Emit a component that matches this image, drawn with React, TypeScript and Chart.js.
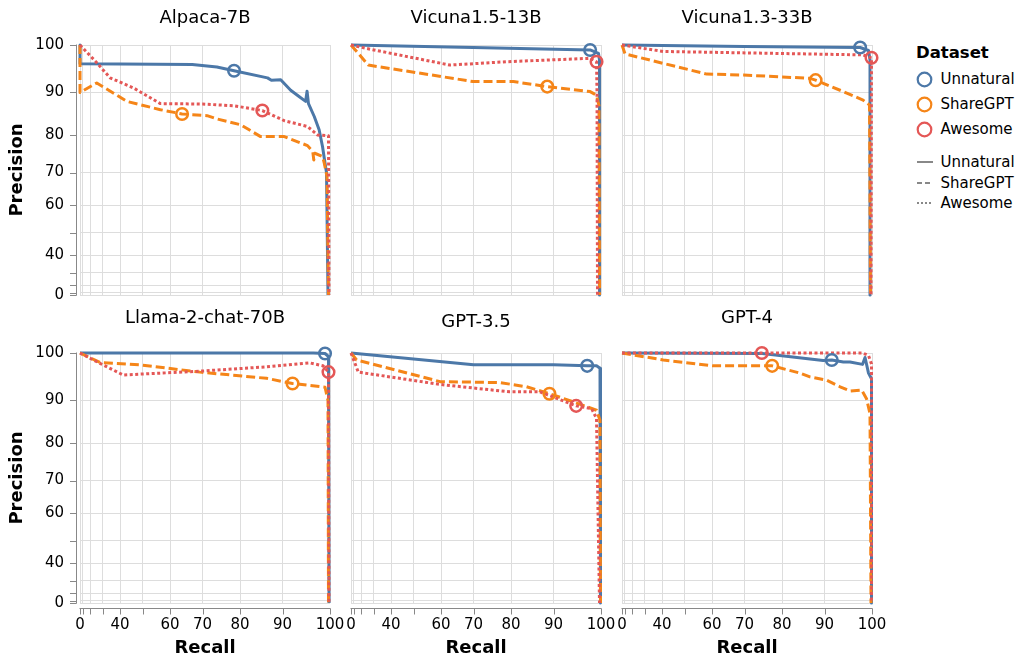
import React, { useEffect, useRef } from 'react';
import { Chart, registerables, LinearScale } from 'chart.js';

// ---------- data ----------
const SERIES = ['Unnatural', 'ShareGPT', 'Awesome'];
const TITLES = ['Alpaca-7B', 'Vicuna1.5-13B', 'Vicuna1.3-33B', 'Llama-2-chat-70B', 'GPT-3.5', 'GPT-4'];
const X_TICK_LABELS = [0, 40, 60, 70, 80, 90, 100];
const Y_TICK_LABELS = [0, 40, 60, 70, 80, 90, 100];

// [recall, precision]
const ALPACA_UNNATURAL = [[0, 100], [1, 96.2], [40, 96.1], [67, 96], [74, 95.5], [78.5, 94.7], [86.6, 93.2], [87.5, 92.7], [89.6, 92.8], [91.8, 90.5], [93.6, 89.1], [95, 88], [95.3, 90.3], [95.6, 87.5], [96.8, 84.5], [97.8, 81.3], [98.5, 77], [99, 72.6], [99.3, 70], [99.6, 0]];
const ALPACA_SHAREGPT = [[0, 100], [0, 90], [25.9, 92.1], [43.3, 88], [56.7, 86.1], [63.9, 85.1], [71.3, 84.7], [74.1, 83.9], [80.2, 82.5], [85, 79.6], [90.4, 79.6], [95.4, 77.3], [96.5, 75.7], [96.7, 73.5], [96.9, 75.3], [98.5, 74.4], [98.85, 72.6], [99.4, 68.8], [99.7, 0]];
const ALPACA_AWESOME = [[0, 100], [25.9, 96.4], [34.7, 93.2], [46.3, 91], [56.7, 87.5], [70, 87.4], [78.5, 87], [85.4, 85.9], [90.4, 83.5], [95.4, 82.1], [97.5, 80], [99.7, 79.8], [99.8, 0]];
const ALPACA_MARKERS = [[78.5, 94.7], [63.9, 85.1], [85.4, 85.9]];

const VIC15_UNNATURAL = [[0, 100], [69.9, 99.5], [97.8, 99], [99.5, 98.3], [99.7, 97], [99.7, 0]];
const VIC15_SHAREGPT = [[0, 100], [26.3, 95.9], [69.9, 92.4], [80.6, 92.4], [88.6, 91.3], [97.8, 90.2], [99.1, 89.4], [99.6, 87], [99.7, 0]];
const VIC15_AWESOME = [[0, 100], [25, 99.3], [62.9, 95.9], [78.9, 96.6], [97.8, 97.3], [99.1, 96.6], [99.2, 90], [99.3, 0]];
const VIC15_MARKERS = [[97.8, 99], [88.6, 91.3], [99.1, 96.6]];

const VIC13_UNNATURAL = [[0, 100], [70, 99.7], [97.6, 99.5], [99.3, 98.9], [99.6, 97], [99.6, 0]];
const VIC13_SHAREGPT = [[0, 100], [11, 98.2], [58.2, 94], [69.7, 93.8], [86.7, 93.1], [88, 92.7], [94.1, 90.2], [98.2, 88.3], [99.5, 87.2], [99.7, 0]];
const VIC13_AWESOME = [[0, 100], [40.6, 98.7], [78.7, 98.3], [98.2, 98], [99.9, 97.4], [99.8, 0]];
const VIC13_MARKERS = [[97.6, 99.5], [88, 92.7], [99.9, 97.4]];

const LLAMA_UNNATURAL = [[0, 100], [96.6, 100], [99, 99.9], [99.7, 99.3], [99.8, 0]];
const LLAMA_SHAREGPT = [[0, 100], [28.3, 98.1], [49, 97.6], [69.3, 96.1], [86.4, 94.8], [92.2, 93.7], [99, 92.9], [99.6, 90], [99.7, 0]];
const LLAMA_AWESOME = [[0, 100], [28.3, 97.9], [41.6, 95.5], [69.3, 96.3], [86.4, 97.2], [95.9, 98], [98.6, 97.4], [99.7, 96.1], [99.8, 0]];
const LLAMA_MARKERS = [[99, 99.9], [92.2, 93.7], [99.7, 96.1]];

const GPT35_UNNATURAL = [[0, 100], [70, 97.6], [90, 97.6], [97.2, 97.4], [99.1, 97.4], [99.8, 96.9], [99.9, 86], [99.9, 0]];
const GPT35_SHAREGPT = [[0, 100], [15, 98.6], [59.7, 94.1], [77.2, 93.9], [83.8, 93], [89.1, 91.5], [94.3, 89.7], [99.1, 87.8], [99.8, 85.5], [99.9, 0]];
const GPT35_AWESOME = [[0, 100], [17.1, 96.1], [59.7, 93.5], [79.7, 91.9], [86.9, 91.9], [94.9, 88.8], [98.1, 88.2], [99.1, 85.9], [99.7, 0]];
const GPT35_MARKERS = [[97.2, 97.4], [89.1, 91.5], [94.9, 88.8]];

const GPT4_UNNATURAL = [[0, 100], [74.9, 99.9], [89.7, 98.5], [91.6, 98.6], [94.1, 98.2], [95.5, 98.2], [98.1, 97.7], [98.6, 99.1], [99.3, 95.9], [99.9, 94.7], [99.9, 0]];
const GPT4_SHAREGPT = [[0, 100], [40.6, 98.6], [60.4, 97.4], [73.4, 97.4], [77.5, 97.4], [84.4, 95.9], [86.7, 95.1], [90.5, 94.4], [93.4, 93], [95.5, 92.1], [97.9, 92.3], [98.9, 90.4], [99.6, 87], [99.8, 0]];
const GPT4_AWESOME = [[0, 100], [74.8, 100], [98.1, 100], [99.3, 99.5], [99.9, 97.8], [99.9, 0]];
const GPT4_MARKERS = [[91.6, 98.6], [77.5, 97.4], [74.8, 100]];

const PANEL_LINES = [
  [ALPACA_UNNATURAL, ALPACA_SHAREGPT, ALPACA_AWESOME],
  [VIC15_UNNATURAL, VIC15_SHAREGPT, VIC15_AWESOME],
  [VIC13_UNNATURAL, VIC13_SHAREGPT, VIC13_AWESOME],
  [LLAMA_UNNATURAL, LLAMA_SHAREGPT, LLAMA_AWESOME],
  [GPT35_UNNATURAL, GPT35_SHAREGPT, GPT35_AWESOME],
  [GPT4_UNNATURAL, GPT4_SHAREGPT, GPT4_AWESOME],
];
const PANEL_MARKERS = [ALPACA_MARKERS, VIC15_MARKERS, VIC13_MARKERS, LLAMA_MARKERS, GPT35_MARKERS, GPT4_MARKERS];

// ---------- style / layout ----------
const COLORS = ['#4c78a8', '#f58518', '#e45756'];
const DASHES: number[][] = [[], [9, 4], [3, 2.5]];
const FONT = "'DejaVu Sans', 'Noto Sans', sans-serif";
const COL_LEFT = [80, 351, 622];
const ROW_TOP = [45, 353];
const PLOT = 250;
const PAD_LEFT = 80;
const PAD_TOP = 45;
const PAD_RIGHT = 22;
const PAD_BOTTOM = 55;
const TITLE_OFFSET = [27, 27, 27, 35, 31, 35];

// ---------- pow(2) scale ----------
class PowScale extends LinearScale {
  static id = 'pow';
  static defaults = LinearScale.defaults;
  getPixelForValue(value: any) {
    if (value === null || value === undefined || Number.isNaN(value)) return NaN;
    const lo = this.min * this.min;
    const hi = this.max * this.max;
    return this.getPixelForDecimal((value * value - lo) / (hi - lo));
  }
  getValueForPixel(pixel: number) {
    const lo = this.min * this.min;
    const hi = this.max * this.max;
    return Math.sqrt(Math.max(0, lo + this.getDecimalForPixel(pixel) * (hi - lo)));
  }
}

Chart.register(...registerables, PowScale as any);
Chart.defaults.font.family = FONT;

const panelTitlePlugin = {
  id: 'panelTitle',
  afterDraw(chart: any, _args: any, opts: any) {
    const { ctx, chartArea } = chart;
    ctx.save();
    ctx.font = `18px ${FONT}`;
    ctx.fillStyle = '#000';
    ctx.textAlign = 'center';
    ctx.textBaseline = 'middle';
    ctx.fillText(opts.text, (chartArea.left + chartArea.right) / 2, chartArea.top - opts.offset);
    ctx.restore();
  },
};

const axisDomainPlugin = {
  id: 'axisDomain',
  afterDraw(chart: any, _args: any, opts: any) {
    const { ctx, chartArea, scales } = chart;
    ctx.save();
    ctx.strokeStyle = '#888';
    ctx.lineWidth = 1;
    ctx.beginPath();
    if (opts.y) {
      const s = scales.y;
      const x0 = Math.round(chartArea.left - 4.5) + 0.5;
      ctx.moveTo(x0, s.getPixelForValue(100) - 0.5);
      ctx.lineTo(x0, s.getPixelForValue(0) + 0.5);
      for (const t of s.ticks) {
        const py = Math.round(s.getPixelForValue(t.value)) + 0.5;
        ctx.moveTo(x0, py);
        ctx.lineTo(x0 - 6.5, py);
      }
    }
    if (opts.x) {
      const s = scales.x;
      const y0 = Math.round(chartArea.bottom + 4.5) + 0.5;
      ctx.moveTo(s.getPixelForValue(0) - 0.5, y0);
      ctx.lineTo(s.getPixelForValue(100) + 0.5, y0);
      for (const t of s.ticks) {
        const px = Math.round(s.getPixelForValue(t.value)) + 0.5;
        ctx.moveTo(px, y0);
        ctx.lineTo(px, y0 + 6);
      }
    }
    ctx.stroke();
    ctx.restore();
  },
};

const zeroPadding = (s: any) => {
  s.paddingLeft = 0;
  s.paddingRight = 0;
  s.paddingTop = 0;
  s.paddingBottom = 0;
};

function Panel({ idx }: { idx: number }) {
  const ref = useRef<HTMLCanvasElement>(null);
  const col = idx % 3;
  const row = Math.floor(idx / 3);
  useEffect(() => {
    if (!ref.current) return;
    const datasets: any[] = [];
    SERIES.forEach((name, i) => {
      datasets.push({
        label: name,
        data: PANEL_LINES[idx][i].map(([x, y]) => ({ x, y })),
        showLine: true,
        borderColor: COLORS[i],
        backgroundColor: COLORS[i],
        borderWidth: 3,
        borderDash: DASHES[i],
        borderCapStyle: 'butt',
        borderJoinStyle: 'round',
        pointRadius: 0,
        pointHoverRadius: 0,
        fill: false,
        tension: 0,
        clip: false,
        order: 10 - i,
      });
    });
    SERIES.forEach((name, i) => {
      const m = PANEL_MARKERS[idx][i];
      datasets.push({
        label: name + ' point',
        data: [{ x: m[0], y: m[1] }],
        showLine: false,
        pointRadius: 5.8,
        pointBorderWidth: 2.5,
        pointBorderColor: COLORS[i],
        pointBackgroundColor: 'rgba(0,0,0,0)',
        borderColor: COLORS[i],
        backgroundColor: 'rgba(0,0,0,0)',
        clip: false,
        order: 3 - i,
      });
    });
    const chart = new Chart(ref.current, {
      type: 'scatter',
      data: { datasets },
      plugins: [panelTitlePlugin, axisDomainPlugin],
      options: {
        animation: false,
        responsive: true,
        maintainAspectRatio: false,
        events: [],
        layout: { padding: { left: 0, top: PAD_TOP, right: PAD_RIGHT, bottom: 0 } },
        plugins: {
          legend: { display: false },
          tooltip: { enabled: false },
          panelTitle: { text: TITLES[idx], offset: TITLE_OFFSET[idx] },
          axisDomain: { x: row === 1, y: col === 0 },
        } as any,
        scales: {
          x: {
            type: 'pow' as any,
            min: 0,
            max: 100,
            afterFit: (s: any) => { s.height = PAD_BOTTOM; zeroPadding(s); },
            ticks: {
              display: row === 1,
              stepSize: 10,
              autoSkip: false,
              maxRotation: 0,
              minRotation: 0,
              padding: 13,
              color: '#000',
              font: { size: 15 },
              callback: (v: any) => (X_TICK_LABELS.includes(Number(v)) ? String(v) : ''),
            },
            grid: { color: '#ddd', lineWidth: 1, drawTicks: false },
            border: { display: false },
            title: {
              display: row === 1,
              text: 'Recall',
              color: '#000',
              font: { size: 18, weight: 'bold', lineHeight: 1.1 },
              padding: 0,
            },
          },
          y: {
            type: 'pow' as any,
            min: 0,
            max: 100,
            afterFit: (s: any) => { s.width = PAD_LEFT; zeroPadding(s); },
            ticks: {
              display: col === 0,
              stepSize: 10,
              autoSkip: false,
              padding: 16,
              color: '#000',
              font: { size: 15 },
              callback: (v: any) => (Y_TICK_LABELS.includes(Number(v)) ? String(v) : ''),
            },
            grid: { color: '#ddd', lineWidth: 1, drawTicks: false },
            border: { display: false },
            title: {
              display: col === 0,
              text: 'Precision',
              color: '#000',
              font: { size: 18, weight: 'bold', lineHeight: 1.2 },
              padding: { top: 6.5, bottom: 0 },
            },
          },
        } as any,
      },
    });
    return () => chart.destroy();
  }, [idx]);
  return (
    <div
      style={{
        position: 'absolute',
        left: COL_LEFT[col] - PAD_LEFT,
        top: ROW_TOP[row] - PAD_TOP,
        width: PAD_LEFT + PLOT + PAD_RIGHT,
        height: PAD_TOP + PLOT + PAD_BOTTOM,
      }}
    >
      <canvas ref={ref} />
    </div>
  );
}

function LegendLine({ dash }: { dash: string }) {
  return (
    <svg width={16} height={6} style={{ display: 'block' }}>
      <line x1={0} y1={3} x2={16} y2={3} stroke="#888" strokeWidth={2} strokeDasharray={dash || undefined} />
    </svg>
  );
}

function Legend() {
  const circleY = [79, 104, 129];
  const lineY = [162, 182.5, 202.5];
  const lineDash = ['', '5,3', '2,2'];
  const label: React.CSSProperties = { fontFamily: FONT, fontSize: 15, color: '#000', whiteSpace: 'nowrap' };
  return (
    <>
      <div style={{ position: 'absolute', left: 916, top: 53 - 12, height: 24, lineHeight: '24px', fontFamily: FONT, fontWeight: 'bold', fontSize: 16.5, color: '#000' }}>
        Dataset
      </div>
      {SERIES.map((name, i) => (
        <div key={'c' + name} style={{ position: 'absolute', left: 916, top: circleY[i] - 10, height: 20, display: 'flex', alignItems: 'center' }}>
          <svg width={17} height={17} style={{ display: 'block' }}>
            <circle cx={8.5} cy={8.5} r={6.8} fill="none" stroke={COLORS[i]} strokeWidth={2.2} />
          </svg>
          <span style={{ ...label, marginLeft: 7.5 }}>{name}</span>
        </div>
      ))}
      {SERIES.map((name, i) => (
        <div key={'l' + name} style={{ position: 'absolute', left: 917, top: lineY[i] - 10, height: 20, display: 'flex', alignItems: 'center' }}>
          <LegendLine dash={lineDash[i]} />
          <span style={{ ...label, marginLeft: 7.5 }}>{name}</span>
        </div>
      ))}
    </>
  );
}

export default function App() {
  return (
    <div style={{ position: 'fixed', left: 0, top: 0, width: 1019, height: 660, overflow: 'hidden', background: '#fff' }}>
      {TITLES.map((_, i) => (
        <Panel key={i} idx={i} />
      ))}
      <Legend />
    </div>
  );
}
